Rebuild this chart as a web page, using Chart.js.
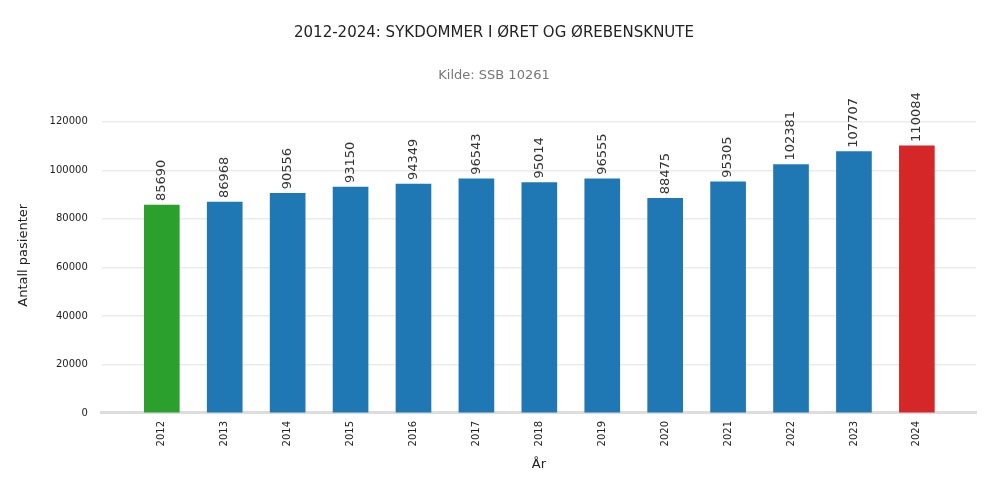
<!DOCTYPE html><html><head><meta charset="utf-8">
<script src="https://cdn.jsdelivr.net/npm/chart.js@4"></script>
<style>body{margin:0;background:#fff}#w{width:1000px;height:500px}</style></head><body><div id="w"><canvas id="c"></canvas></div>
<script>
const years=["2012","2013","2014","2015","2016","2017","2018","2019","2020","2021","2022","2023","2024"];
const patients=[85690,86968,90556,93150,94349,96543,95014,96555,88475,95305,102381,107707,110084];
const colors=years.map((y,i)=>i===0?"#2ca02c":(i===years.length-1?"#d62728":"#1f77b4"));
const labelPlugin={id:"lbl",afterDatasetsDraw(ch){const ctx=ch.ctx;const m=ch.getDatasetMeta(0);ctx.save();ctx.font="13px 'DejaVu Sans'";ctx.fillStyle="#333";ctx.textAlign="left";ctx.textBaseline="middle";
m.data.forEach((b,i)=>{ctx.save();ctx.translate(b.x,b.y-4);ctx.rotate(-Math.PI/2);ctx.fillText(String(patients[i]),0,0);ctx.restore();});ctx.restore();}};
new Chart(document.getElementById("c"),{type:"bar",
data:{datasets:[{data:patients.map((v,i)=>({x:i,y:v})),backgroundColor:colors,barThickness:35}]},
options:{responsive:true,maintainAspectRatio:false,animation:false,
layout:{padding:{left:12,right:24,top:0,bottom:24}},
plugins:{legend:{display:false},tooltip:{enabled:false},
title:{display:true,text:"2012-2024: SYKDOMMER I ØRET OG ØREBENSKNUTE",color:"#222",font:{family:"DejaVu Sans",size:15,weight:"normal"},padding:{top:24,bottom:14}},
subtitle:{display:true,text:"Kilde: SSB 10261",color:"#777",font:{family:"DejaVu Sans",size:13},padding:{top:12,bottom:14}}},
scales:{x:{type:"linear",min:-0.954,max:12.94,offset:false,
afterBuildTicks(s){s.ticks=years.map((y,i)=>({value:i}));},
ticks:{callback:(v)=>years[v],autoSkip:false,maxRotation:90,minRotation:90,color:"#222",font:{family:"DejaVu Sans",size:10},padding:8},
grid:{display:false,drawTicks:false},border:{color:"#ddd",width:3},
title:{display:true,text:"År",color:"#222",font:{family:"DejaVu Sans",size:13},padding:{top:2}}},
y:{min:0,max:130000,afterBuildTicks(s){s.ticks=[0,20000,40000,60000,80000,100000,120000].map(v=>({value:v}));},
ticks:{callback:(v)=>String(v),color:"#222",font:{family:"DejaVu Sans",size:10},padding:14},
grid:{color:"#ebebeb",lineWidth:1.5,drawTicks:false},border:{display:false},
title:{display:true,text:"Antall pasienter",color:"#222",font:{family:"DejaVu Sans",size:13}}}}},
plugins:[labelPlugin]});
</script></body></html>
